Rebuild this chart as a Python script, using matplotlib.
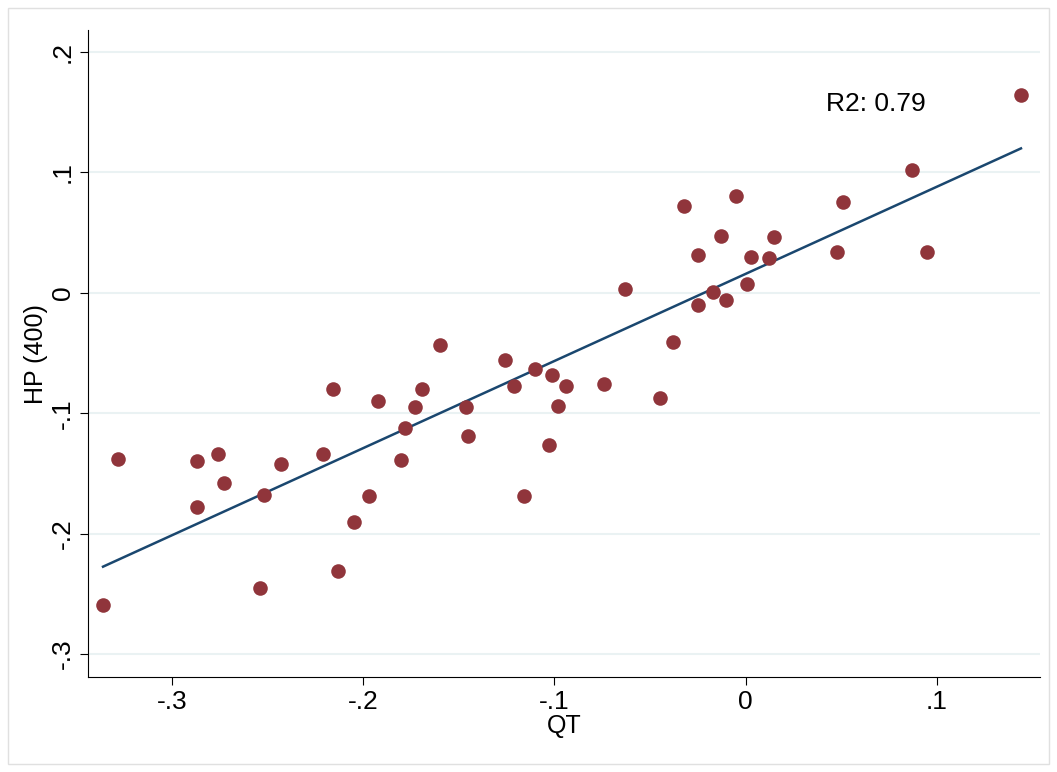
import numpy as np
import matplotlib.pyplot as plt
from matplotlib.patches import Rectangle

plt.rcParams['font.family'] = ['Liberation Sans', 'DejaVu Sans']

qt = [-0.336, -0.328, -0.287, -0.287, -0.276, -0.273, -0.252, -0.254, -0.243, -0.221,
      -0.216, -0.213, -0.205, -0.197, -0.192, -0.180, -0.178, -0.173, -0.169, -0.160,
      -0.146, -0.145, -0.126, -0.121, -0.116, -0.110, -0.101, -0.103, -0.098, -0.094,
      -0.074, -0.063, -0.045, -0.038, -0.032, -0.025, -0.025, -0.017, -0.013, -0.010,
      -0.005, 0.001, 0.003, 0.012, 0.015, 0.048, 0.051, 0.087, 0.095, 0.144]
hp = [-0.259, -0.138, -0.140, -0.178, -0.134, -0.158, -0.168, -0.245, -0.142, -0.134,
      -0.080, -0.231, -0.190, -0.169, -0.090, -0.139, -0.112, -0.095, -0.080, -0.043,
      -0.095, -0.119, -0.056, -0.077, -0.169, -0.063, -0.068, -0.126, -0.094, -0.077,
      -0.076, 0.003, -0.087, -0.041, 0.072, 0.031, -0.010, 0.001, 0.047, -0.006,
      0.080, 0.007, 0.030, 0.029, 0.046, 0.034, 0.075, 0.102, 0.034, 0.164]
xticks = [-0.3, -0.2, -0.1, 0, 0.1]
xlabels = ['-.3', '-.2', '-.1', '0', '.1']
yticks = [-0.3, -0.2, -0.1, 0, 0.1, 0.2]
ylabels = ['-.3', '-.2', '-.1', '0', '.1', '.2']

qt = np.array(qt)
hp = np.array(hp)
b, a = np.polyfit(qt, hp, 1)
xs = np.array([qt.min(), qt.max()])

fig = plt.figure(figsize=(10.57, 7.72), dpi=100)
ax = fig.add_axes([0.083, 0.123, 0.901, 0.838])
fig.patches.append(Rectangle((0.008, 0.01), 0.984, 0.98, transform=fig.transFigure,
                             fill=False, edgecolor='#e0e0e0', lw=1))

ax.scatter(qt, hp, s=110, color='#90353b', zorder=3, linewidths=0)
ax.plot(xs, a + b * xs, color='#1a476f', lw=1.8, zorder=2)
ax.text(0.042, 0.151, 'R2: 0.79', fontsize=19)

ax.set_xlim(-0.344, 0.154)
ax.set_ylim(-0.319, 0.218)
ax.set_xticks(xticks, xlabels, fontsize=19)
ax.set_yticks(yticks, ylabels, fontsize=19, rotation=90, va='center')
ax.yaxis.grid(True, color='#eaf2f3', lw=1.5)
ax.set_axisbelow(True)
for s in ['top', 'right']:
    ax.spines[s].set_visible(False)
ax.tick_params(length=6)
ax.set_xlabel('QT', fontsize=18, labelpad=0)
ax.set_ylabel('HP (400)', fontsize=18, labelpad=2)

plt.savefig('out.png')
